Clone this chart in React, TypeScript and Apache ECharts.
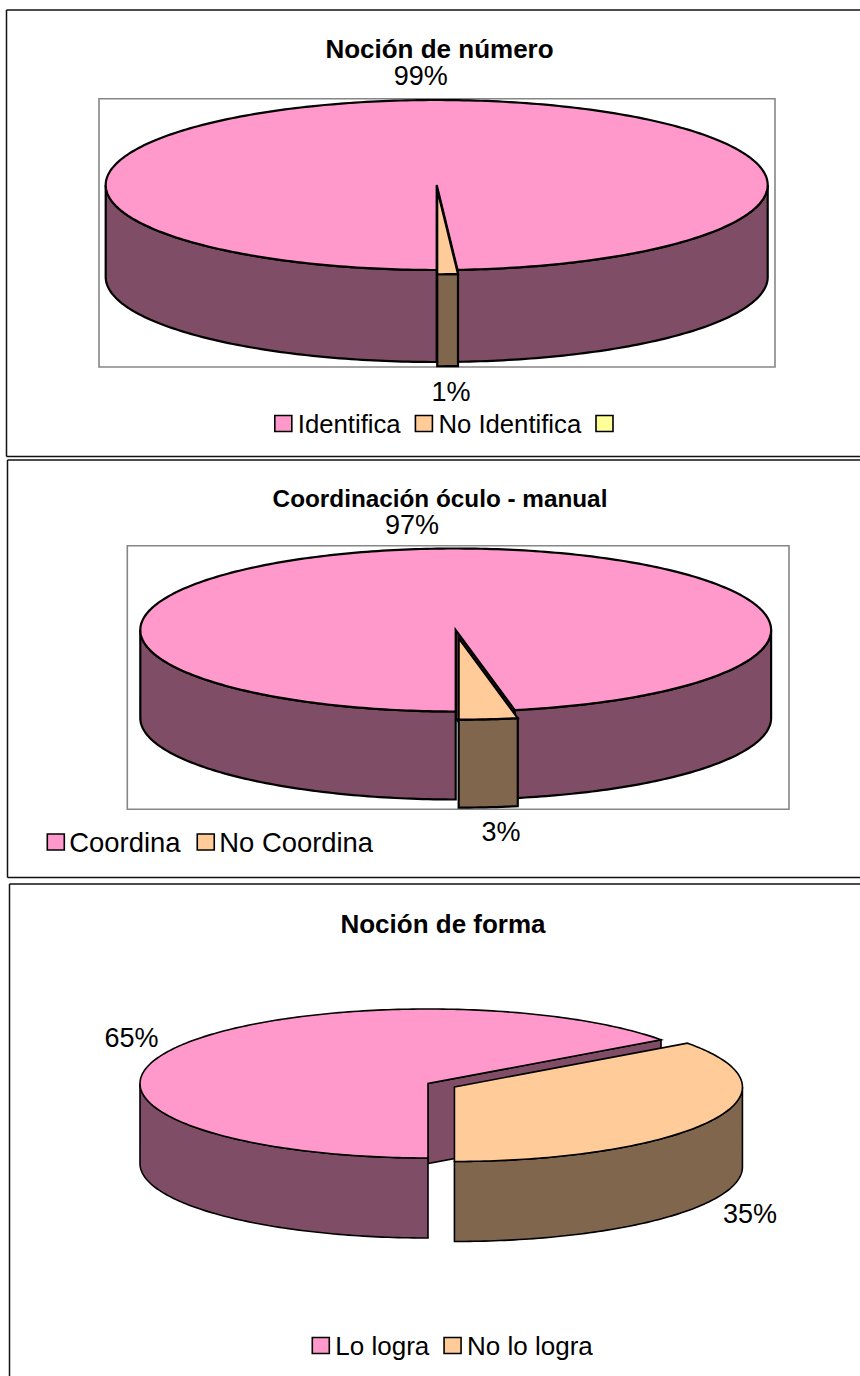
import React, { useEffect, useRef } from "react";
import * as echarts from "echarts";

const FONT = "Liberation Sans";

const numeroTitle = "Noción de número";
const numeroNames = ["Identifica", "No Identifica", " "];
const numeroValues = [99, 1, 0];

const coordinacionTitle = "Coordinación óculo - manual";
const coordinacionNames = ["Coordina", "No Coordina"];
const coordinacionValues = [97, 3];

const formaTitle = "Noción de forma";
const formaNames = ["Lo logra", "No lo logra"];
const formaValues = [65, 35];

const topColors = ["#FF99CC", "#FFCC99", "#FFFF99"];
const wallColors = ["#804D66", "#80664D", "#808050"];

const charts = [
  {
    title: numeroTitle, names: numeroNames, values: numeroValues,
    cx: 436.7, cy: 185, rx: 331, ry: 85, depth: 92, explode: 0.05, lw: 2.2,
    labels: [[420.7, 76], [451, 392]],
    titleX: 439.5, titleTop: 36, titleSize: 26,
    legendLeft: 274, legendTop: 410.5, legendSize: 25.7, legendGap: 14, legendPad: 1,
  },
  {
    title: coordinacionTitle, names: coordinacionNames, values: coordinacionValues,
    cx: 455.7, cy: 630, rx: 315.4, ry: 81.5, depth: 88, explode: 0.1, lw: 2.2,
    labels: [[412, 525], [501, 832]],
    titleX: 440, titleTop: 486, titleSize: 24.3,
    legendLeft: 46.5, legendTop: 828.5, legendSize: 27.4, legendGap: 16, legendPad: 0,
  },
  {
    title: formaTitle, names: formaNames, values: formaValues,
    cx: 428, cy: 1083.5, rx: 288, ry: 74.5, depth: 80, explode: 0.103, lw: 1.6,
    labels: [[131.6, 1038], [750, 1214]],
    titleX: 443, titleTop: 911, titleSize: 26,
    legendLeft: 311.5, legendTop: 1332.5, legendSize: 26, legendGap: 14, legendPad: 1,
  },
];

const rad = (d: number) => (d * Math.PI) / 180;

function arc(c: number, r: number, cy: number, ry: number, a: number, b: number) {
  const pts: number[][] = [];
  const n = Math.max(2, Math.ceil(Math.abs(b - a)));
  for (let i = 0; i <= n; i++) {
    const t = a + ((b - a) * i) / n;
    pts.push([c + r * Math.sin(rad(t)), cy - ry * Math.cos(rad(t))]);
  }
  return pts;
}

function sliceChildren(ch: any, index: number, value: number) {
  const total = ch.values.reduce((s: number, v: number) => s + v, 0);
  const before = ch.values.slice(0, index).reduce((s: number, v: number) => s + v, 0);
  const a1 = 180 + (before / total) * 360;
  const a2 = a1 + (value / total) * 360;
  const mid = rad((a1 + a2) / 2);
  const cx = ch.cx + ch.explode * ch.rx * Math.sin(mid) * (index > 0 ? 1 : 0);
  const cy = ch.cy - ch.explode * ch.ry * Math.cos(mid) * (index > 0 ? 1 : 0);
  const border = {
    stroke: "#000", lineWidth: ch.lw, lineJoin: "miter", miterLimit: 10,
  };
  const wall = { ...border, fill: wallColors[index] };
  const out: any[] = [];
  const edge = (a: number) => {
    const p = arc(cx, ch.rx, cy, ch.ry, a, a)[0];
    out.push({
      type: "polygon",
      shape: { points: [[cx, cy], p, [p[0], p[1] + ch.depth], [cx, cy + ch.depth]] },
      style: wall,
    });
  };
  if (Math.cos(rad(a1 - 90)) < -1e-6) edge(a1);
  if (Math.cos(rad(a2 + 90)) < -1e-6) edge(a2);
  [90, 450].forEach((lo) => {
    const s = Math.max(a1, lo);
    const e = Math.min(a2, lo + 180);
    if (e > s) {
      const up = arc(cx, ch.rx, cy, ch.ry, s, e);
      const down = up.map((p) => [p[0], p[1] + ch.depth]).reverse();
      out.push({ type: "polygon", shape: { points: [...up, ...down] }, style: wall });
    }
  });
  out.push({
    type: "polygon",
    shape: { points: [[cx, cy], ...arc(cx, ch.rx, cy, ch.ry, a1, a2)] },
    style: { ...border, fill: topColors[index] },
  });
  const lab = ch.labels[index];
  out.push({
    type: "text",
    style: {
      text: `${value}%`, x: lab[0], y: lab[1], align: "center", verticalAlign: "middle",
      fontFamily: FONT, fontSize: 27, fill: "#000",
    },
  });
  return out;
}

function buildOption() {
  const series: any[] = [];
  charts.forEach((ch) => {
    ch.names.forEach((name, i) => {
      series.push({
        type: "custom",
        name,
        coordinateSystem: "none",
        silent: true,
        clip: false,
        z: 2 + i,
        itemStyle: { color: topColors[i] },
        data: [[ch.values[i]]],
        renderItem: (_p: any, api: any) => {
          const v = api.value(0);
          if (!v) return { type: "group", children: [] };
          return { type: "group", children: sliceChildren(ch, i, v) };
        },
      });
    });
  });

  const frame = (x1: number, y1: number, x2: number, y2: number) => ({
    type: "line",
    shape: { x1, y1, x2, y2 },
    style: { stroke: "#111", lineWidth: 1.5 },
    silent: true,
  });
  const plot = (x: number, y: number, width: number, height: number) => ({
    type: "rect",
    shape: { x, y, width, height },
    style: { fill: "#fff", stroke: "#868686", lineWidth: 1.6 },
    silent: true,
  });

  return {
    animation: false,
    backgroundColor: "#fff",
    title: charts.map((ch) => ({
      text: ch.title,
      left: ch.titleX,
      top: ch.titleTop,
      textAlign: "center",
      padding: 0,
      textStyle: { fontFamily: FONT, fontWeight: "bold", fontSize: ch.titleSize, color: "#000" },
    })),
    legend: charts.map((ch) => ({
      data: ch.names,
      left: ch.legendLeft,
      top: ch.legendTop,
      orient: "horizontal",
      padding: 0,
      icon: "rect",
      itemWidth: 17,
      itemHeight: 16,
      itemGap: ch.legendGap,
      selectedMode: false,
      itemStyle: { borderColor: "#000", borderWidth: 1.6 },
      textStyle: { fontFamily: FONT, fontSize: ch.legendSize, color: "#000", padding: [0, 0, 0, ch.legendPad] },
    })),
    graphic: {
      elements: [
        frame(6.5, 10, 860, 10), frame(6.5, 10, 6.5, 456.5), frame(6.5, 456.5, 860, 456.5),
        frame(7.5, 460, 860, 460), frame(7.5, 460, 7.5, 877.5), frame(7.5, 877.5, 860, 877.5),
        frame(9.5, 884, 860, 884), frame(9.5, 884, 9.5, 1376),
        plot(99, 98.7, 676, 268.3),
        plot(127.3, 545.7, 661.7, 263.6),
      ],
    },
    series,
  };
}

export default function App() {
  const ref = useRef<HTMLDivElement>(null);
  useEffect(() => {
    document.body.style.margin = "0";
    const chart = echarts.init(ref.current!, undefined, { renderer: "svg" });
    chart.setOption(buildOption() as any);
    return () => chart.dispose();
  }, []);
  return <div ref={ref} style={{ width: 860, height: 1376 }} />;
}
